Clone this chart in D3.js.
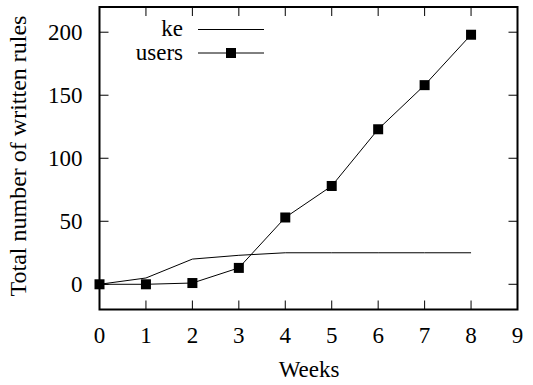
<!DOCTYPE html>
<html><head><meta charset="utf-8">
<script src="https://cdn.jsdelivr.net/npm/d3@7"></script>
<style>body{margin:0;background:#fff}svg{display:block}</style>
</head><body>
<script>
const weeks = [0,1,2,3,4,5,6,7,8];
const keValues = [0,5,20,23,25,25,25,25,25];
const usersValues = [0,0,1,13,53,78,123,158,198];
const xTicks = [0,1,2,3,4,5,6,7,8,9];
const yTicks = [0,50,100,150,200];

const FF = "'Liberation Serif', 'Times New Roman', Times, serif";
const FS = 23;
const W=533,H=385;
const m={l:99.5,r:517.5,t:7,b:309.5};
const svg=d3.select("body").append("svg").attr("width",W).attr("height",H)
  .attr("font-family",FF).style("font-family",FF);
const x=d3.scaleLinear().domain([0,9]).range([m.l,m.r]);
const y=d3.scaleLinear().domain([-20,220]).range([m.b,m.t]);
const tl=9;
const g=svg.append("g");
xTicks.forEach(t=>{
  g.append("line").attr("x1",x(t)).attr("x2",x(t)).attr("y1",m.b).attr("y2",m.b-tl).attr("stroke","#000").attr("stroke-width",1);
  g.append("line").attr("x1",x(t)).attr("x2",x(t)).attr("y1",m.t).attr("y2",m.t+tl).attr("stroke","#000").attr("stroke-width",1);
  g.append("text").attr("x",x(t)).attr("y",342.5).attr("text-anchor","middle").attr("font-size",FS).text(t);
});
yTicks.forEach(t=>{
  g.append("line").attr("x1",m.l).attr("x2",m.l+tl).attr("y1",y(t)).attr("y2",y(t)).attr("stroke","#000").attr("stroke-width",1);
  g.append("line").attr("x1",m.r).attr("x2",m.r-tl).attr("y1",y(t)).attr("y2",y(t)).attr("stroke","#000").attr("stroke-width",1);
  g.append("text").attr("x",82.5).attr("y",y(t)+7.5).attr("text-anchor","end").attr("font-size",FS).text(t);
});
g.append("rect").attr("x",m.l).attr("y",m.t).attr("width",m.r-m.l).attr("height",m.b-m.t).attr("fill","none").attr("stroke","#000").attr("stroke-width",2);
svg.append("text").attr("x",309).attr("y",377).attr("text-anchor","middle").attr("font-size",FS).text("Weeks");
svg.append("text").attr("transform","translate(26,156) rotate(-90)").attr("text-anchor","middle").attr("font-size",FS+1).text("Total number of written rules");

const line=d3.line().x((d,i)=>x(weeks[i])).y(d=>y(d));
svg.append("path").attr("d",line(keValues)).attr("fill","none").attr("stroke","#000").attr("stroke-width",1);
svg.append("path").attr("d",line(usersValues)).attr("fill","none").attr("stroke","#000").attr("stroke-width",1);
const s=10;
svg.selectAll("rect.u").data(usersValues).enter().append("rect").attr("class","u")
  .attr("x",(d,i)=>x(weeks[i])-s/2).attr("y",d=>y(d)-s/2).attr("width",s).attr("height",s).attr("fill","#000");
svg.append("text").attr("x",183).attr("y",36).attr("text-anchor","end").attr("font-size",FS).text("ke");
svg.append("line").attr("x1",198).attr("x2",264).attr("y1",29.5).attr("y2",29.5).attr("stroke","#000").attr("stroke-width",1);
svg.append("text").attr("x",183).attr("y",59.5).attr("text-anchor","end").attr("font-size",FS).text("users");
svg.append("line").attr("x1",198).attr("x2",264).attr("y1",53).attr("y2",53).attr("stroke","#000").attr("stroke-width",1);
svg.append("rect").attr("x",231-s/2).attr("y",53-s/2).attr("width",s).attr("height",s).attr("fill","#000");
</script>
</body></html>
